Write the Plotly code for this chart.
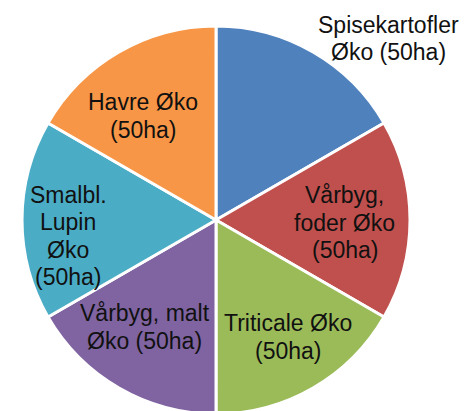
import math
import plotly.graph_objects as go

# ── Data ──────────────────────────────────────────────────────────────────────

crops = [
    "Spisekartofler Øko (50ha)",
    "Vårbyg, foder Øko (50ha)",
    "Triticale Øko (50ha)",
    "Vårbyg, malt Øko (50ha)",
    "Smalbl. Lupin Øko (50ha)",
    "Havre Øko (50ha)",
]
areas = [50, 50, 50, 50, 50, 50]   # ha per crop
label_lines = [
    ["Spisekartofler", "Øko (50ha)"],
    ["Vårbyg,", "foder Øko", "(50ha)"],
    ["Triticale Øko", "(50ha)"],
    ["Vårbyg, malt", "Øko (50ha)"],
    ["Smalbl.", "Lupin", "Øko", "(50ha)"],
    ["Havre Øko", "(50ha)"],
]

# ── Style ─────────────────────────────────────────────────────────────────────

COLORS = ["#4F81BD", "#C0504D", "#9BBB59", "#8064A2", "#4BACC6", "#F79646"]
W, H = 472, 411
DOM_X = [0.0297, 0.8517]
DOM_Y = [0.0122, 0.9562]
FONT = dict(family="Liberation Sans, Arial, sans-serif", size=23, color="#111111")
LINE_H = 27.5   # px between label lines
# label distance from centre (fraction of radius) and angle tweak (degrees)
LABEL_R = [1.29, 0.665, 0.708, 0.662, 0.767, 0.655]
LABEL_DA = [13.5, 1.3, -1.6, 3.6, -6.2, -5.0]

fig = go.Figure(go.Pie(
    labels=crops,
    values=areas,
    sort=False,
    direction="clockwise",
    rotation=0,
    marker=dict(colors=COLORS, line=dict(color="white", width=3)),
    textinfo="none",
    hoverinfo="label+value",
    domain=dict(x=DOM_X, y=DOM_Y),
))

# pie geometry in pixels
box_w = (DOM_X[1] - DOM_X[0]) * W
box_h = (DOM_Y[1] - DOM_Y[0]) * H
radius = min(box_w, box_h) / 2
cx = (DOM_X[0] + DOM_X[1]) / 2 * W
cy = (1 - (DOM_Y[0] + DOM_Y[1]) / 2) * H

total = sum(areas)
cum = 0
for i, v in enumerate(areas):
    mid = (cum + v / 2) / total * 360 + LABEL_DA[i]   # degrees clockwise from top
    cum += v
    px = cx + LABEL_R[i] * radius * math.sin(math.radians(mid))
    py = cy - LABEL_R[i] * radius * math.cos(math.radians(mid))
    n = len(label_lines[i])
    for k, line in enumerate(label_lines[i]):
        ly = py + (k - (n - 1) / 2) * LINE_H
        fig.add_annotation(
            x=px / W, y=1 - ly / H, xref="paper", yref="paper",
            text=line, showarrow=False, font=FONT,
            xanchor="center", yanchor="middle", align="center",
        )

fig.update_layout(
    width=W, height=H,
    margin=dict(l=0, r=0, t=0, b=0),
    showlegend=False,
    paper_bgcolor="white",
)

fig.write_html("out.html")
